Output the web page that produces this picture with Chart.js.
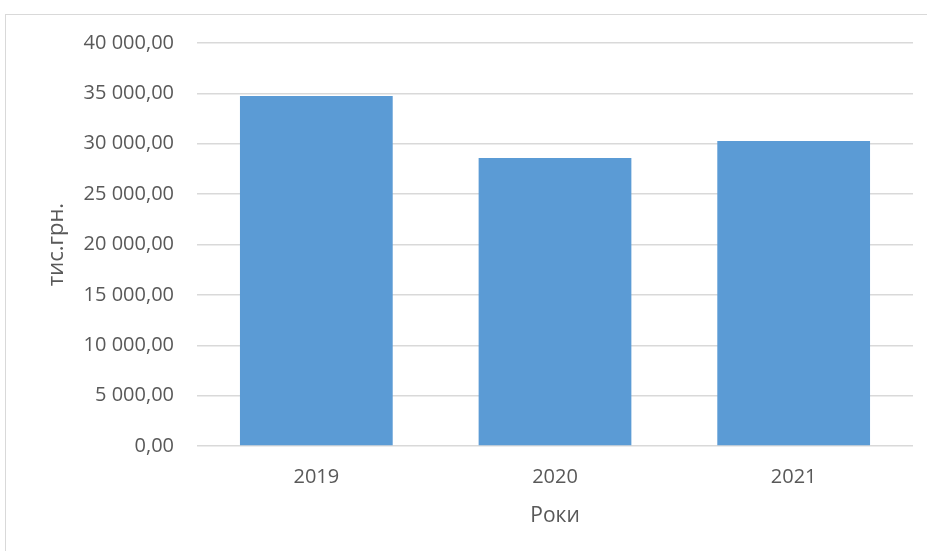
<!DOCTYPE html>
<html>
<head>
<meta charset="utf-8">
<script src="https://cdn.jsdelivr.net/npm/chart.js@4.4.1/dist/chart.umd.min.js"></script>
<style>
  html, body { margin: 0; padding: 0; background: #fff; overflow: hidden; }
  #frame { position: absolute; left: 5px; top: 14px; width: 1000px; height: 1000px; border: 1px solid #d9d9d9; }
  #wrap { position: absolute; left: 0; top: 0; width: 927px; height: 551px; }
</style>
</head>
<body>
<div id="frame"></div>
<div id="wrap"><canvas id="chart" width="927" height="551"></canvas></div>
<script>
// Chart data
const years = ["2019", "2020", "2021"];
const amounts = [34750, 28590, 30280];
const yTicks = [0, 5000, 10000, 15000, 20000, 25000, 30000, 35000, 40000];

// "40 000,00" style numbers
function formatUa(v) {
  const parts = v.toFixed(2).split(".");
  const intPart = parts[0].replace(/\B(?=(\d{3})+(?!\d))/g, "\u00a0");
  return intPart + "," + parts[1];
}

const canvas = document.getElementById("chart");
new Chart(canvas.getContext("2d"), {
  type: "bar",
  data: {
    labels: years,
    datasets: [{
      label: "тис.грн.",
      data: amounts,
      backgroundColor: "#5b9bd5",
      borderWidth: 0,
      barPercentage: 0.64,
      categoryPercentage: 1.0
    }]
  },
  options: {
    responsive: false,
    animation: false,
    layout: { padding: { top: 43, right: 14, left: 0, bottom: 0 } },
    plugins: {
      legend: { display: false },
      tooltip: { enabled: false }
    },
    scales: {
      x: {
        grid: { display: false },
        border: { display: false },
        ticks: {
          color: "#595959",
          font: { family: "Open Sans", size: 20 },
          padding: 11
        },
        title: {
          display: true,
          text: "Роки",
          color: "#595959",
          font: { family: "Open Sans", size: 21 },
          padding: { top: 0, bottom: 22 }
        },
        afterFit: (scale) => { scale.height = 105; }
      },
      y: {
        min: 0,
        max: 40000,
        afterBuildTicks: (scale) => { scale.ticks = yTicks.map(v => ({ value: v })); },
        grid: { color: "#d9d9d9", lineWidth: 1.5, drawTicks: false },
        border: { display: false },
        ticks: {
          color: "#595959",
          font: { family: "Open Sans", size: 20 },
          padding: 23,
          callback: (v) => formatUa(v)
        },
        title: {
          display: true,
          text: "тис.грн.",
          color: "#595959",
          font: { family: "Open Sans", size: 22 },
          padding: { top: 44, bottom: 0 }
        },
        afterFit: (scale) => { scale.width = 197; }
      }
    }
  }
});
</script>
</body>
</html>
